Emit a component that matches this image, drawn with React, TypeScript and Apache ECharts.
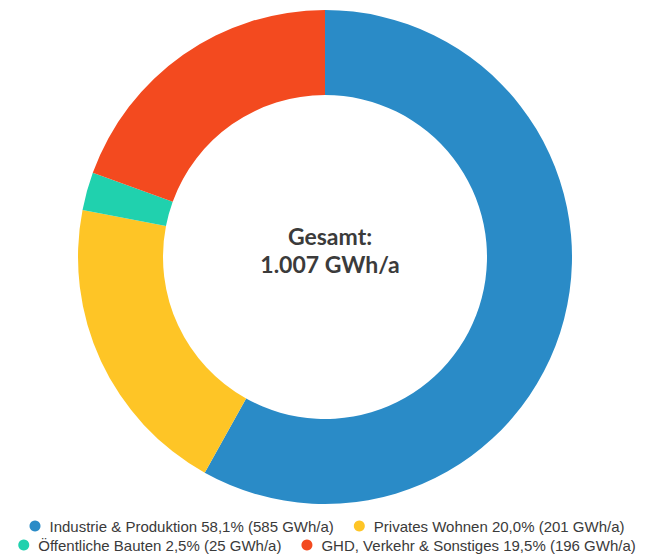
import React, { useEffect, useRef } from "react";
import * as echarts from "echarts";

const categories = ["Industrie & Produktion", "Privates Wohnen", "Öffentliche Bauten", "GHD, Verkehr & Sonstiges"];
const values = [585, 201, 25, 196];
const percents = ["58,1%", "20,0%", "2,5%", "19,5%"];
const colors = ["#2a8bc7", "#fec526", "#20d1ae", "#f34a1f"];
const totalLabel = ["Gesamt:", "1.007 GWh/a"];

export default function App() {
  const ref = useRef<HTMLDivElement>(null);
  useEffect(() => {
    if (!ref.current) return;
    const chart = echarts.init(ref.current, null, { renderer: "svg" });
    const fmt = (name: string) => {
      const i = categories.indexOf(name);
      return `${name} ${percents[i]} (${values[i]} GWh/a)`;
    };
    const legendBase = {
      orient: "horizontal" as const,
      left: "center",
      icon: "circle",
      itemWidth: 11,
      itemHeight: 11,
      itemGap: 20,
      padding: 0,
      textStyle: {
        fontFamily: "Liberation Sans, Arial",
        fontSize: 15,
        lineHeight: 16,
        color: "#3a3a3a",
        padding: [0, 0, 0, 4],
      },
      formatter: fmt,
    };
    chart.setOption({
      animation: false,
      color: colors,
      title: {
        text: totalLabel.join("\n"),
        left: 325,
        top: 217,
        textAlign: "center",
        textStyle: {
          fontFamily: "Lato, Open Sans, sans-serif",
          fontWeight: "bold",
          fontSize: 23,
          lineHeight: 28,
          color: "#3b3b3b",
        },
      },
      legend: [
        { ...legendBase, top: 518, data: categories.slice(0, 2) },
        { ...legendBase, top: 537, data: categories.slice(2, 4) },
      ],
      series: [
        {
          type: "pie",
          center: [325, 257],
          radius: [162, 247],
          startAngle: 90,
          clockwise: true,
          label: { show: false },
          labelLine: { show: false },
          emphasis: { disabled: true },
          data: categories.map((c, i) => ({ name: c, value: values[i] })),
        },
      ],
    });
    return () => chart.dispose();
  }, []);
  return <div ref={ref} style={{ width: 654, height: 555, position: "absolute", left: 0, top: 0 }} />;
}
